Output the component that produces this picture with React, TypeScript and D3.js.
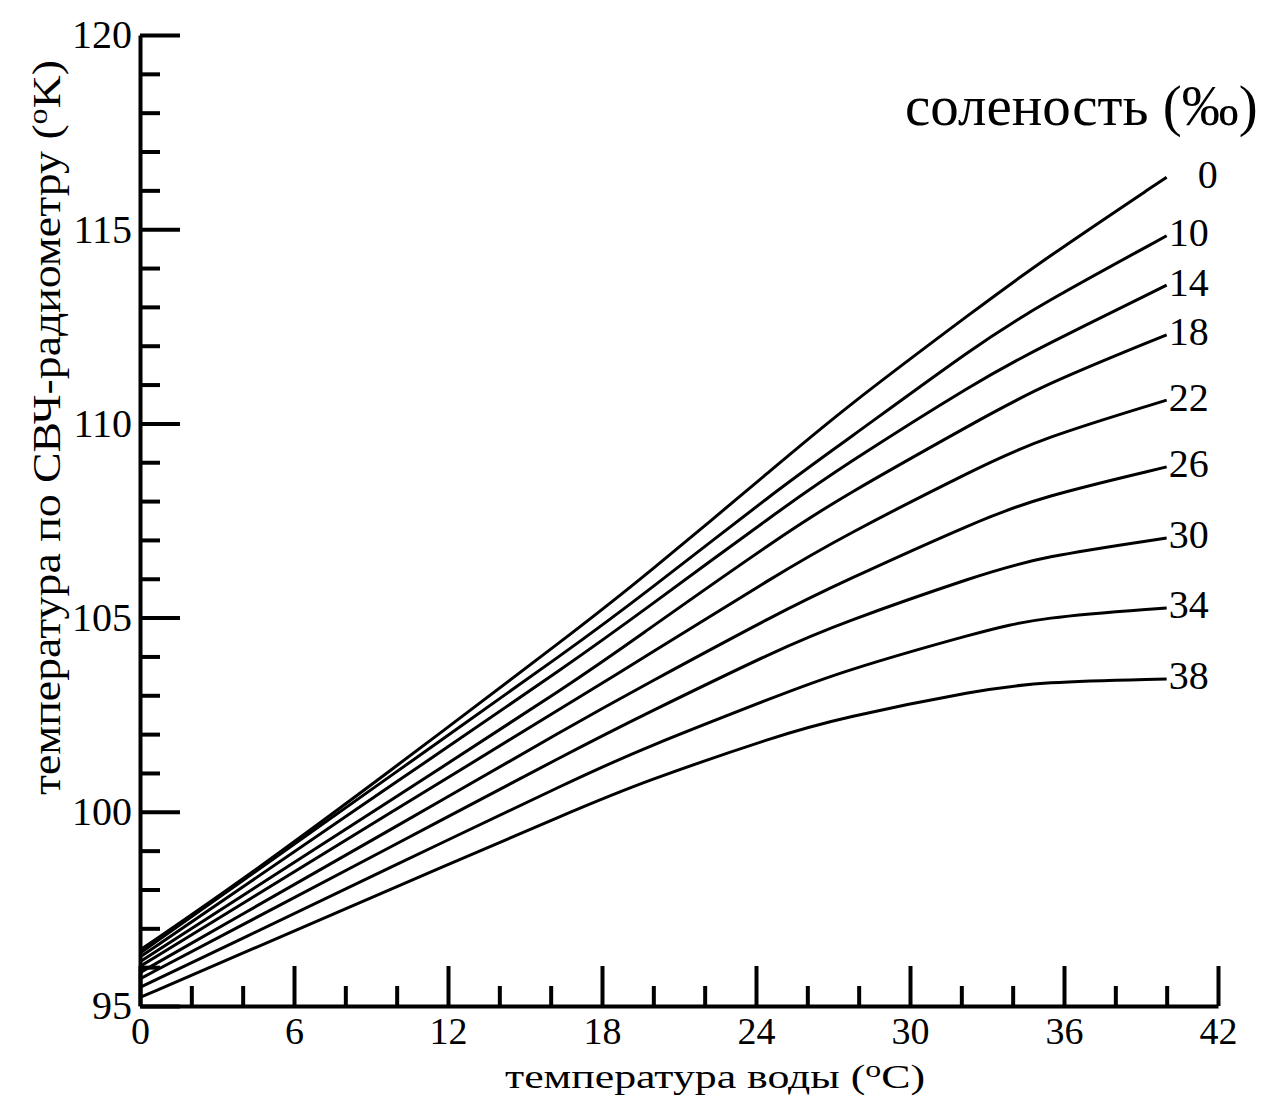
import React, { useEffect, useRef } from 'react';
import * as d3 from 'd3';

// water temperature (°C) at which the curves were read
const waterTemps = [0, 3.9, 9.35, 17.14, 19.48, 24.93, 27.27, 32.7, 35.06, 40];
const salinities = [0, 10, 14, 18, 22, 26, 30, 34, 38];

// radiometer temperature (°K) for each salinity
const tbSal0 = [96.44, 98.2, 100.85, 104.75, 105.97, 108.98, 110.3, 113.0, 114.15, 116.34];
const tbSal10 = [96.36, 98.18, 100.73, 104.37, 105.53, 108.34, 109.44, 112.07, 113.05, 114.83];
const tbSal14 = [96.26, 98.02, 100.48, 103.99, 105.12, 107.77, 108.85, 111.12, 111.95, 113.56];
const tbSal18 = [96.14, 97.8, 100.12, 103.44, 104.55, 107.08, 108.08, 110.09, 110.95, 112.28];
const tbSal22 = [96.02, 97.6, 99.81, 102.96, 103.91, 106.15, 107.05, 108.88, 109.6, 110.6];
const tbSal26 = [95.86, 97.33, 99.38, 102.35, 103.2, 105.14, 105.89, 107.51, 108.1, 108.88];
const tbSal30 = [95.7, 97.06, 98.95, 101.67, 102.45, 104.2, 104.85, 106.1, 106.56, 107.05];
const tbSal34 = [95.48, 96.71, 98.44, 100.9, 101.6, 103.01, 103.6, 104.63, 105.01, 105.25];
const tbSal38 = [95.22, 96.33, 97.89, 100.1, 100.74, 101.98, 102.41, 103.14, 103.34, 103.42];
const seriesValues = [tbSal0, tbSal10, tbSal14, tbSal18, tbSal22, tbSal26, tbSal30, tbSal34, tbSal38];

const xTickLabels = [0, 6, 12, 18, 24, 30, 36, 42];
const yTickLabels = [95, 100, 105, 110, 115, 120];

const FONT = '"Liberation Serif", "Times New Roman", serif';

const App = () => {
  const ref = useRef(null);

  useEffect(() => {
    document.body.style.margin = '0';
    const svg = d3.select(ref.current);
    svg.selectAll('*').remove();

    const x = d3.scaleLinear().domain([0, 42]).range([140, 1218]);
    const y = d3.scaleLinear().domain([95, 120]).range([1006, 35]);

    // x axis: minor ticks every 2, major every 6, pointing up
    const xMinor = d3.range(0, 43, 2).filter(v => v % 6 !== 0);
    svg.append('g')
      .attr('transform', `translate(0,${y(95)})`)
      .call(d3.axisBottom(x).tickValues(xMinor).tickSize(-20).tickSizeOuter(0).tickFormat(() => ''))
      .call(g => g.selectAll('line').attr('stroke', '#000').attr('stroke-width', 4))
      .call(g => g.select('.domain').attr('stroke', '#000').attr('stroke-width', 4));

    svg.append('g')
      .attr('transform', `translate(0,${y(95)})`)
      .call(d3.axisBottom(x).tickValues(xTickLabels).tickSize(-40).tickSizeOuter(0).tickPadding(11).tickFormat(d3.format('d')))
      .call(g => g.select('.domain').remove())
      .call(g => g.selectAll('line').attr('stroke', '#000').attr('stroke-width', 4))
      .call(g => g.selectAll('text')
        .attr('fill', '#000')
        .style('font-family', FONT)
        .style('font-size', '38px'));

    // y axis: minor ticks every 1, major every 5, pointing right
    const yMinor = d3.range(95, 121, 1).filter(v => v % 5 !== 0);
    svg.append('g')
      .attr('transform', `translate(${x(0)},0)`)
      .call(d3.axisLeft(y).tickValues(yMinor).tickSize(-20).tickSizeOuter(0).tickFormat(() => ''))
      .call(g => g.selectAll('line').attr('stroke', '#000').attr('stroke-width', 4))
      .call(g => g.select('.domain').attr('stroke', '#000').attr('stroke-width', 4));

    svg.append('g')
      .attr('transform', `translate(${x(0)},0)`)
      .call(d3.axisLeft(y).tickValues(yTickLabels).tickSize(-40).tickSizeOuter(0).tickPadding(8).tickFormat(d3.format('d')))
      .call(g => g.select('.domain').remove())
      .call(g => g.selectAll('line').attr('stroke', '#000').attr('stroke-width', 4))
      .call(g => g.selectAll('text')
        .attr('fill', '#000')
        .style('font-family', FONT)
        .style('font-size', '40px'));

    // curves
    const line = d3.line()
      .x(d => x(d[0]))
      .y(d => y(d[1]))
      .curve(d3.curveBasis);

    seriesValues.forEach((vals, i) => {
      const pts = waterTemps.map((t, j) => [t, vals[j]]);
      svg.append('path')
        .datum(pts)
        .attr('fill', 'none')
        .attr('stroke', '#000')
        .attr('stroke-width', 3)
        .attr('d', line);

      const last = pts[pts.length - 1];
      svg.append('text')
        .attr('x', x(last[0]) + (i === 0 ? 31 : 2))
        .attr('y', y(last[1]) - 3)
        .attr('dominant-baseline', 'central')
        .style('font-family', FONT)
        .style('font-size', '40px')
        .text(salinities[i]);
    });

    // legend title
    svg.append('text')
      .attr('x', 905)
      .attr('y', 125)
      .style('font-family', FONT)
      .style('font-size', '57px')
      .text('соленость (‰)');

    // axis titles
    const xTitle = svg.append('text')
      .attr('x', 505)
      .attr('y', 1088)
      .attr('textLength', 420)
      .attr('lengthAdjust', 'spacingAndGlyphs')
      .style('font-family', FONT)
      .style('font-size', '33px');
    xTitle.append('tspan').text('температура воды (');
    xTitle.append('tspan').attr('dy', -11).style('font-size', '24px').text('o');
    xTitle.append('tspan').attr('dy', 11).text('C)');

    const yTitle = svg.append('text')
      .attr('transform', 'translate(60,795) rotate(-90)')
      .attr('textLength', 735)
      .attr('lengthAdjust', 'spacingAndGlyphs')
      .style('font-family', FONT)
      .style('font-size', '40px');
    yTitle.append('tspan').text('температура по СВЧ-радиометру (');
    yTitle.append('tspan').attr('dy', -13).style('font-size', '28px').text('o');
    yTitle.append('tspan').attr('dy', 13).text('K)');
  }, []);

  return <svg ref={ref} width={1270} height={1099} style={{ display: 'block', background: '#fff' }} />;
};

export default App;
